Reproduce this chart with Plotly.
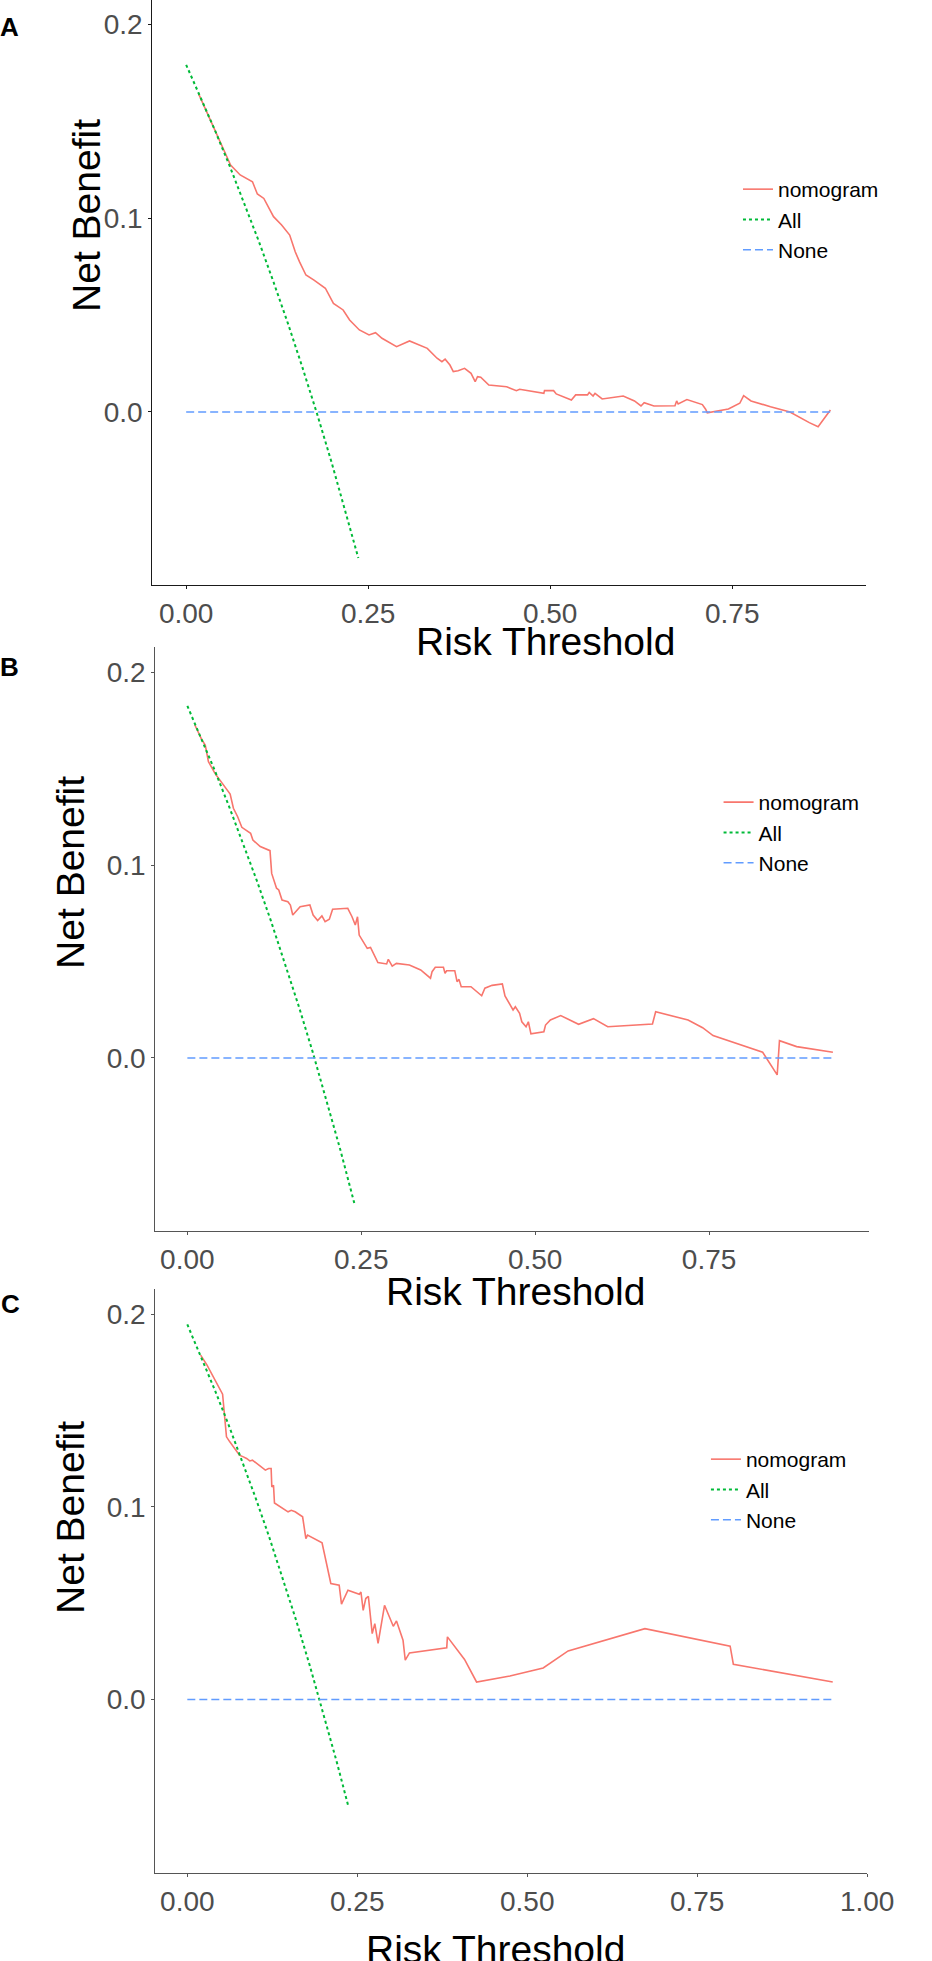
import plotly.graph_objects as go

W, H = 932, 1961

# ---- panel A ----
a_nomo_x = [0.0168, 0.051, 0.061, 0.0742, 0.0911, 0.0978, 0.1067, 0.120, 0.1311, 0.1422,
            0.1498, 0.1556, 0.1645, 0.1756, 0.1912, 0.2023, 0.2156, 0.2245, 0.2379, 0.2512,
            0.2601, 0.2690, 0.289, 0.3068, 0.3268, 0.3312, 0.3446, 0.3513, 0.3557, 0.3623,
            0.3669, 0.3735, 0.3824, 0.3913, 0.397, 0.4002, 0.4046, 0.4157, 0.4402, 0.4536,
            0.458, 0.4913, 0.4922, 0.5047, 0.5083, 0.5291, 0.535, 0.5513, 0.5536, 0.5589,
            0.5616, 0.5714, 0.6003, 0.6158, 0.6247, 0.6291, 0.6425, 0.6714, 0.6737, 0.6758,
            0.6878, 0.709, 0.7135, 0.7158, 0.7448, 0.7604, 0.7657, 0.7759, 0.8026, 0.8293,
            0.8559, 0.868, 0.8849]
a_nomo_y = [0.1643, 0.135, 0.1273, 0.1222, 0.1187, 0.1124, 0.1101, 0.1007, 0.0964, 0.0912,
            0.0826, 0.0775, 0.0706, 0.068, 0.0638, 0.056, 0.0526, 0.0474, 0.0423, 0.0397,
            0.0409, 0.038, 0.0337, 0.0366, 0.0337, 0.0328, 0.0277, 0.0259, 0.0272, 0.0242,
            0.0208, 0.0213, 0.0225, 0.0199, 0.0156, 0.0182, 0.0179, 0.0139, 0.013, 0.011,
            0.0117, 0.0096, 0.011, 0.011, 0.0093, 0.0062, 0.0088, 0.0088, 0.0101, 0.0082,
            0.0096, 0.0067, 0.0082, 0.0057, 0.0031, 0.0048, 0.0031, 0.0032, 0.0057, 0.0041,
            0.0064, 0.0038, 0.0014, -0.0004, 0.0015, 0.0045, 0.0084, 0.0057, 0.0027, 0.0,
            -0.0055, -0.0076, 0.001]
a_all_x = [0, 0.02, 0.04, 0.06, 0.08, 0.10, 0.12, 0.14, 0.16, 0.18, 0.20, 0.22, 0.2365]
a_all_y = [0.179, 0.1622, 0.1448, 0.1266, 0.1076, 0.0878, 0.0670, 0.0454, 0.0226, -0.0012,
           -0.0263, -0.0526, -0.0753]
a_none_x = [0, 0.885]

# ---- panel B ----
b_nomo_x = [0.0108, 0.021, 0.0257, 0.0303, 0.0397, 0.0467, 0.0615, 0.0662, 0.0723, 0.0783,
            0.0909, 0.0942, 0.1048, 0.1188, 0.1212, 0.1282, 0.1314, 0.1361, 0.1445, 0.1481,
            0.1515, 0.1621, 0.1761, 0.1808, 0.1873, 0.1934, 0.198, 0.2041, 0.2088, 0.2306,
            0.2367, 0.2414, 0.2446, 0.247, 0.2586, 0.2633, 0.2739, 0.2865, 0.2889, 0.2945,
            0.3005, 0.3192, 0.3354, 0.3495, 0.3518, 0.3564, 0.3681, 0.3704, 0.3727, 0.3844,
            0.3877, 0.3905, 0.3937, 0.4077, 0.4231, 0.4277, 0.438, 0.4528, 0.4566, 0.4682,
            0.4715, 0.4776, 0.4808, 0.4869, 0.4902, 0.4939, 0.5125, 0.5149, 0.5219, 0.5367,
            0.5624, 0.5838, 0.6043, 0.6686, 0.6732, 0.7198, 0.7407, 0.7557, 0.827, 0.8479,
            0.8512, 0.8759, 0.928]
b_nomo_y = [0.1728, 0.165, 0.1624, 0.1538, 0.1477, 0.1443, 0.137, 0.1296, 0.1252, 0.1197,
            0.1166, 0.1131, 0.1097, 0.1076, 0.0958, 0.0881, 0.0872, 0.082, 0.0811, 0.0794,
            0.0742, 0.0785, 0.0794, 0.0742, 0.0713, 0.0737, 0.0707, 0.072, 0.0772, 0.0777,
            0.0733, 0.069, 0.0733, 0.0638, 0.0569, 0.0574, 0.0495, 0.0488, 0.0512, 0.0477,
            0.0491, 0.0483, 0.0457, 0.0414, 0.0448, 0.0471, 0.0471, 0.044, 0.0453, 0.0453,
            0.0396, 0.0408, 0.037, 0.037, 0.0323, 0.0362, 0.0377, 0.0384, 0.0322, 0.0249,
            0.0266, 0.0232, 0.0188, 0.0162, 0.0188, 0.0125, 0.0136, 0.0171, 0.0197, 0.022,
            0.0175, 0.0204, 0.0162, 0.0176, 0.024, 0.0197, 0.0157, 0.0116, 0.003, -0.0088,
            0.009, 0.0059, 0.003]
b_all_x = [0, 0.02, 0.04, 0.06, 0.08, 0.10, 0.12, 0.14, 0.16, 0.18, 0.20, 0.22, 0.24]
b_all_y = [0.1827, 0.1660, 0.1487, 0.1305, 0.1116, 0.0919, 0.0713, 0.0497, 0.0270, 0.0033,
           -0.0216, -0.0478, -0.0754]
b_none_x = [0, 0.928]

# ---- panel C ----
c_nomo_x = [0.0196, 0.029, 0.0519, 0.0539, 0.0576, 0.0625, 0.0767, 0.0825, 0.0872, 0.0919,
            0.0958, 0.1148, 0.1196, 0.1233, 0.1243, 0.1268, 0.1282, 0.1482, 0.1529, 0.1586,
            0.1696, 0.1744, 0.1768, 0.1982, 0.2111, 0.2234, 0.2268, 0.2363, 0.253, 0.2554,
            0.2587, 0.2625, 0.2663, 0.272, 0.2758, 0.2806, 0.2901, 0.303, 0.3077, 0.3173,
            0.3206, 0.3268, 0.3816, 0.3826, 0.4078, 0.4255, 0.4745, 0.5235, 0.5602, 0.6731,
            0.7985, 0.8032, 0.9494]
c_nomo_y = [0.1787, 0.1735, 0.1584, 0.1518, 0.1363, 0.1337, 0.1268, 0.1259, 0.1251, 0.1238,
            0.1242, 0.119, 0.1199, 0.1199, 0.1103, 0.1112, 0.102, 0.0974, 0.0982, 0.0974,
            0.0948, 0.0835, 0.0853, 0.0813, 0.0602, 0.0593, 0.0495, 0.0567, 0.0546, 0.0558,
            0.0463, 0.0524, 0.0536, 0.0342, 0.0394, 0.0291, 0.0489, 0.038, 0.0408, 0.0308,
            0.0204, 0.0242, 0.0268, 0.0325, 0.0208, 0.0091, 0.0122, 0.0164, 0.0252, 0.0368,
            0.0277, 0.0183, 0.0091]
c_all_x = [0, 0.02, 0.04, 0.06, 0.08, 0.10, 0.12, 0.14, 0.16, 0.18, 0.20, 0.22, 0.237]
c_all_y = [0.1946, 0.1782, 0.1610, 0.1432, 0.1246, 0.1051, 0.0848, 0.0635, 0.0412, 0.0178,
           -0.0068, -0.0326, -0.0556]
c_none_x = [0, 0.949]

x_ticks = [0, 0.25, 0.5, 0.75, 1.0]
y_ticks = [0.0, 0.1, 0.2]
names = ['nomogram', 'All', 'None']

FONT = 'Arial, Liberation Sans, sans-serif'
RED, GREEN, BLUE = '#F8766D', '#00BA38', '#619CFF'


def px(x, y):
    # pixel position -> paper coords
    return x / W, 1 - y / H


fig = go.Figure()


def add_panel(i, nomo_x, nomo_y, all_x, all_y, none_x, box, xrange, yrange, axcolor, leg_xy):
    sfx = '' if i == 1 else str(i)
    xa, ya = 'x' + sfx, 'y' + sfx
    leg = 'legend' + sfx
    fig.add_trace(go.Scatter(x=nomo_x, y=nomo_y, mode='lines', name=names[0], xaxis=xa, yaxis=ya,
                             legend=leg, line=dict(color=RED, width=1.6)))
    fig.add_trace(go.Scatter(x=all_x, y=all_y, mode='lines', name=names[1], xaxis=xa, yaxis=ya,
                             legend=leg, line=dict(color=GREEN, width=2, dash='3px,3px')))
    fig.add_trace(go.Scatter(x=none_x, y=[0, 0], mode='lines', name=names[2], xaxis=xa, yaxis=ya,
                             legend=leg, line=dict(color=BLUE, width=1.6, dash='8px,4px')))

    x0, y0, x1, y1 = box
    common = dict(showline=True, linecolor=axcolor, linewidth=1.4, ticks='outside', ticklen=3,
                  tickwidth=1.2, tickcolor=axcolor, showgrid=False, zeroline=False,
                  tickfont=dict(family=FONT, size=28, color='#4D4D4D'))
    fig.layout['xaxis' + sfx] = dict(domain=[x0 / W, x1 / W], range=xrange, anchor=ya,
                                     tickvals=[t for t in x_ticks if t <= xrange[1] + 1e-9],
                                     tickformat='.2f', **common)
    fig.layout['yaxis' + sfx] = dict(domain=[1 - y1 / H, 1 - y0 / H], range=yrange, anchor=xa,
                                     tickvals=y_ticks, tickformat='.1f', **common)
    lx, ly = px(*leg_xy)
    fig.layout[leg] = dict(x=lx, y=ly, xanchor='left', yanchor='top', bgcolor='rgba(0,0,0,0)',
                           font=dict(family=FONT, size=21, color='black'), itemwidth=30)


add_panel(1, a_nomo_x, a_nomo_y, a_all_x, a_all_y, a_none_x, (157, 0, 892, 585),
          [-0.0463, 0.934], [-0.0892, 0.2124], '#1a1a1a', (760, 169))
add_panel(2, b_nomo_x, b_nomo_y, b_all_x, b_all_y, b_none_x, (160, 647, 895, 1231),
          [-0.046, 0.98], [-0.0898, 0.2133], '#555555', (740, 782))
add_panel(3, c_nomo_x, c_nomo_y, c_all_x, c_all_y, c_none_x, (160, 1289, 893, 1873),
          [-0.047, 1.0], [-0.090, 0.213], '#555555', (727, 1439))

# axis titles and panel letters
labels = [
    ('Net Benefit', 88.5, 215, -90, 39, False),
    ('Net Benefit', 73, 872, -90, 39, False),
    ('Net Benefit', 72, 1517, -90, 39, False),
    ('Risk Threshold', 562, 641, 0, 39, False),
    ('Risk Threshold', 531, 1291, 0, 39, False),
    ('Risk Threshold', 510, 1949, 0, 39, False),
    ('A', 10, 27, 0, 26, True),
    ('B', 10, 667, 0, 26, True),
    ('C', 11, 1304, 0, 26, True),
]
for text, x, y, ang, size, bold in labels:
    ax, ay = px(x, y)
    fig.add_annotation(x=ax, y=ay, xref='paper', yref='paper', text=f'<b>{text}</b>' if bold else text,
                       showarrow=False, textangle=ang, xanchor='center', yanchor='middle',
                       font=dict(family=FONT, size=size, color='black'))

fig.update_layout(width=W, height=H, margin=dict(l=0, r=0, t=0, b=0),
                  plot_bgcolor='white', paper_bgcolor='white')

fig.write_html("out.html", config={'displayModeBar': False},
               post_script="document.body.style.margin='0';document.body.style.overflow='hidden';")
